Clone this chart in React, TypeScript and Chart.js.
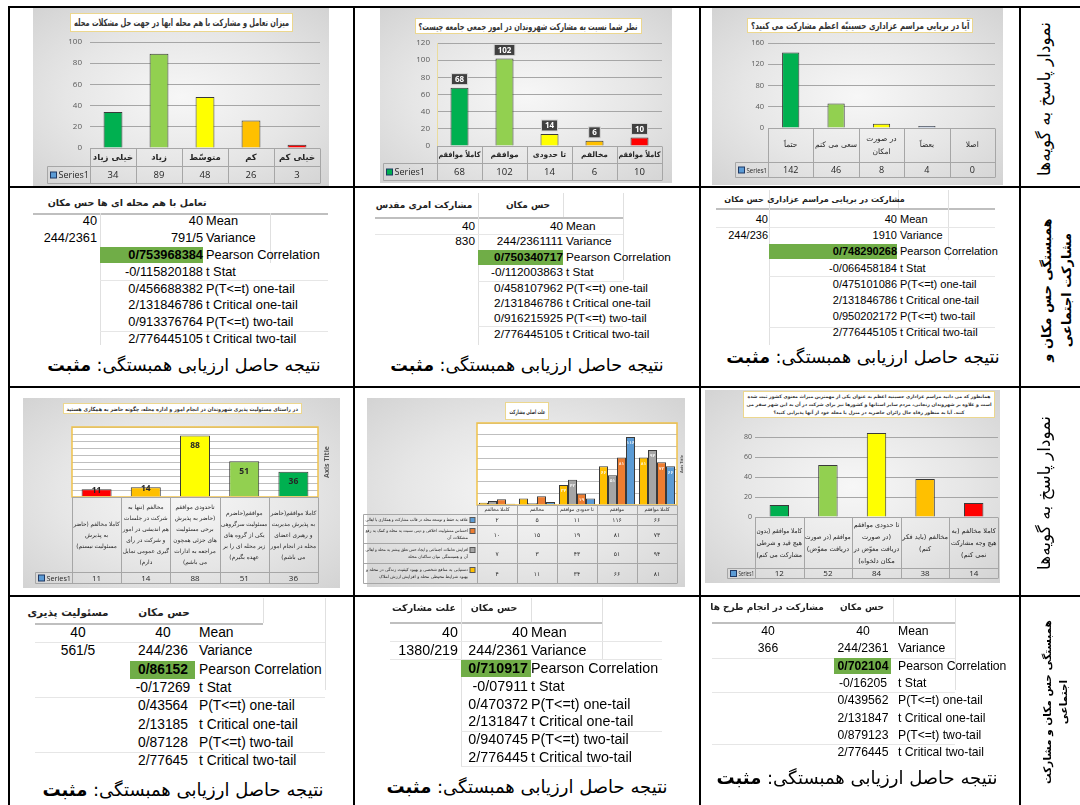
import React, { useEffect, useLayoutEffect, useRef } from "react";
import { Chart, registerables } from "chart.js";

Chart.register(...registerables);

const FA = '"DejaVu Sans", "Noto Sans", sans-serif';
const NUM = '"Open Sans", "DejaVu Sans", sans-serif';
const ARIAL = '"Liberation Sans", Arial, sans-serif';

// ===================== DATA =====================
const seriesName = "Series1";

// Chart 1
const c1Title = "میزان تعامل و مشارکت با هم محله ایها در جهت حل مشکلات محله";
const c1Categories = [["خیلی زیاد"], ["زیاد"], ["متوسّط"], ["کم"], ["خیلی کم"]];
const c1Values = [34, 89, 48, 26, 3];
const c1Axis = { max: 100, step: 10 };

// Chart 2
const c2Title = "نظر شما نسبت به مشارکت شهروندان در امور جمعی جامعه چیست؟";
const c2Categories = [["کاملاً موافقم"], ["موافقم"], ["تا حدودی"], ["مخالفم"], ["کاملاً موافقم"]];
const c2Values = [68, 102, 14, 6, 10];
const c2Axis = { max: 120, step: 20 };

// Chart 3
const c3Title = "آیا در برپایی مراسم عزاداری حسینیّه اعظم مشارکت می کنید؟";
const c3Categories = [["حتماً"], ["سعی می کنم"], ["در صورت", "امکان"], ["بعضاً"], ["اصلا"]];
const c3Values = [142, 46, 8, 4, 0];
const c3Axis = { max: 160, step: 20 };

// Chart 4
const c4Title = "در راستای مسئولیت پذیری شهروندان در انجام امور و اداره محله، چگونه حاضر به همکاری هستید";
const c4Categories = [
  ["کاملا مخالفم (حاضر", "به پذیرش", "مسئولیت نیستم)"],
  ["مخالفم (تنها به", "شرکت در جلسات", "هم اندیشی در امور", "و شرکت در رأی", "گیری عمومی تمایل", "دارم)"],
  ["تاحدودی موافقم", "(حاضر به پذیرش", "برخی مسئولیت", "های جزئی همچون", "مراجعه به ادارات", "می باشم)"],
  ["موافقم(حاضرم", "مسئولیت سرگروهی", "یکی از گروه های", "زیر محله ای را بر", "عهده بگیرم)"],
  ["کاملا موافقم(حاضر", "به پذیرش مدیریت", "و رهبری اعضای", "محله در انجام امور", "می باشم)"],
];
const c4Values = [11, 14, 88, 51, 36];
const c4Axis = { max: 100, step: 10 };
const axisTitleText = "Axis Title";

// Chart 5
const c5Title = "علت اصلی مشارکت";
const c5Categories = [["کاملا مخالفم"], ["مخالفم"], ["تا حدودی موافقم"], ["موافقم"], ["کاملا موافقم"]];
const c5NameYellow = ["دستیابی به منافع شخصی و بهبود کیفیت زندگی در محله و", "بهبود شرایط محیطی محله و افزایش ارزش املاک"];
const c5NameGray = ["افزایش تعاملات اجتماعی و ایجاد حس تعلق بیشتر به محله و اهالی", "آن و همبستگی میان ساکنان محله"];
const c5NameOrange = ["احساس مسئولیت اخلاقی و دینی نسبت به محله و کمک به رفع", "مشکلات آن"];
const c5NameBlue = ["علاقه به حفظ و توسعه محله در قالب مشارکت و همکاری با اهالی"];
const c5Yellow = [4, 11, 34, 66, 81];
const c5Gray = [7, 3, 43, 51, 94];
const c5Orange = [10, 15, 19, 81, 73];
const c5Blue = [2, 5, 11, 116, 66];
const c5Axis = { max: 140, step: 20 };

// Chart 6
const c6Title =
  "همانطور که می دانید مراسم عزاداری حسینیه اعظم به عنوان یکی از مهمترین میراث معنوی کشور ثبت شده است و علاوه بر شهروندان زنجانی، مردم سایر استانها و کشورها نیز برای شرکت در آن به این شهر سفر می کنند. آیا به منظور رفاه حال زائران حاضرید در منزل یا محله خود از آنها پذیرایی کنید؟";
const c6Categories = [
  ["کاملا موافقم (بدون", "هیچ قید و شرطی", "مشارکت می کنم)"],
  ["موافقم (در صورت", "دریافت معوّض)"],
  ["تا حدودی موافقم", "(در صورت", "دریافت معوّض در", "مکان دلخواه)"],
  ["مخالفم (باید فکر", "کنم)"],
  ["کاملا مخالفم (به", "هیچ وجه مشارکت", "نمی کنم)"],
];
const c6Values = [12, 52, 84, 38, 14];
const c6Axis = { max: 90, step: 10 };

// Statistic tables
const statLabels = [
  "Mean",
  "Variance",
  "Pearson Correlation",
  "t Stat",
  "P(T<=t) one-tail",
  "t Critical one-tail",
  "P(T<=t) two-tail",
  "t Critical two-tail",
];
const conclusionText = "نتیجه حاصل ارزیابی همبستگی: ";
const conclusionResult = "مثبت";

const s1Headers = ["حس مکان", "تعامل با هم محله ای ها"];
const s1Left = ["40", "244/2361"];
const s1Mid = ["40", "791/5", "0/753968384", "-0/115820188", "0/456688382", "2/131846786", "0/913376764", "2/776445105"];

const s2Headers = ["مشارکت امری مقدس", "حس مکان"];
const s2Left = ["40", "830"];
const s2Mid = ["40", "244/2361111", "0/750340717", "-0/112003863", "0/458107962", "2/131846786", "0/916215925", "2/776445105"];

const s3Headers = ["حس مکان", "مشارکت در برپایی مراسم عزاداری"];
const s3Left = ["40", "244/236"];
const s3Mid = ["40", "1910", "0/748290268", "-0/066458184", "0/475101086", "2/131846786", "0/950202172", "2/776445105"];

const s4Headers = ["مسئولیت پذیری", "حس مکان"];
const s4Left = ["40", "561/5"];
const s4Mid = ["40", "244/236", "0/86152", "-0/17269", "0/43564", "2/13185", "0/87128", "2/77645"];

const s5Headers = ["علت مشارکت", "حس مکان"];
const s5Left = ["40", "1380/219"];
const s5Mid = ["40", "244/2361", "0/710917", "-0/07911", "0/470372", "2/131847", "0/940745", "2/776445"];

const s6Headers = ["مشارکت در انجام طرح ها", "حس مکان"];
const s6Left = ["40", "366"];
const s6Mid = ["40", "244/2361", "0/702104", "-0/16205", "0/439562", "2/131847", "0/879123", "2/776445"];

const sideLabel1 = "نمودار پاسخ به گویه‌ها";
const sideLabel2 = ["همبستگی حس مکان و", "مشارکت اجتماعی"];
const sideLabel4 = ["همبستگی حس مکان و مشارکت", "اجتماعی"];

// ===================== STYLES =====================
const GREEN_D = "#00b050";
const GREEN_L = "#92d050";
const YELLOW = "#ffff00";
const ORANGE = "#ffc000";
const RED = "#ff0000";
const BLUEGRAY = "#8faadc";
const BG = "radial-gradient(ellipse at center, #f7f7f7 0%, #e6e6e6 55%, #d3d3d3 100%)";

const faDigits = (v: number) => String(v).replace(/\d/g, (d) => "۰۱۲۳۴۵۶۷۸۹"[+d]);

function seg(ctx: any, x1: number, y1: number, x2: number, y2: number) {
  ctx.beginPath();
  ctx.moveTo(x1, y1);
  ctx.lineTo(x2, y2);
  ctx.stroke();
}

function tablePlugin(t: any) {
  return {
    id: "dtable",
    afterDraw(chart: any) {
      const ctx = chart.ctx;
      const a = chart.chartArea;
      const xs = chart.scales.x;
      const n = chart.data.labels.length;
      const cw = (a.right - a.left) / n;
      const top = Math.round(a.bottom) + 0.5;
      const catB = top + t.catH;
      const rowTops: number[] = [];
      let y = catB;
      t.rowH.forEach((h: number) => {
        rowTops.push(y);
        y += h;
      });
      const bottom = y;
      const L = Math.round(t.legendLeft) + 0.5;
      ctx.save();
      ctx.strokeStyle = t.line || "#a6a6a6";
      ctx.lineWidth = 1;
      seg(ctx, a.left, top, a.right, top);
      rowTops.forEach((ry) => seg(ctx, L, ry, a.right, ry));
      seg(ctx, L, bottom, a.right, bottom);
      for (let i = 0; i <= n; i++) {
        const x = Math.round(a.left + i * cw) + 0.5;
        seg(ctx, x, top, x, bottom);
      }
      seg(ctx, L, catB, L, bottom);

      ctx.fillStyle = t.color || "#262626";
      ctx.textAlign = "center";
      ctx.textBaseline = "middle";
      ctx.font = t.catFont;
      ctx.direction = "rtl";
      const mid = (top + catB) / 2;
      t.categories.forEach((lines: string[], i: number) => {
        const cx = xs.getPixelForValue(i);
        lines.forEach((s, k) =>
          ctx.fillText(s, cx, mid + (k - (lines.length - 1) / 2) * t.catLine, cw - 3)
        );
      });

      t.rows.forEach((r: any, ri: number) => {
        const y0 = rowTops[ri];
        const y1 = y0 + t.rowH[ri];
        const cy = (y0 + y1) / 2;
        ctx.direction = "ltr";
        ctx.textAlign = "center";
        ctx.font = t.valFont;
        ctx.fillStyle = t.color || "#262626";
        r.values.forEach((v: number, i: number) =>
          ctx.fillText(t.fmt ? t.fmt(v) : String(v), xs.getPixelForValue(i), cy + 0.5)
        );
        if (t.legendRtl) {
          const lines: string[] = r.lines;
          const lh = t.legLine;
          const fy = cy - ((lines.length - 1) * lh) / 2;
          ctx.fillStyle = r.color;
          ctx.fillRect(a.left - 7, fy - 2.5, 5, 5);
          ctx.strokeStyle = "#595959";
          ctx.strokeRect(a.left - 7, fy - 2.5, 5, 5);
          ctx.fillStyle = "#262626";
          ctx.font = t.legFont;
          ctx.direction = "rtl";
          ctx.textAlign = "right";
          lines.forEach((s, k) => ctx.fillText(s, a.left - 9, fy + k * lh, a.left - 11 - L));
        } else {
          ctx.fillStyle = r.color;
          ctx.fillRect(L + 3, cy - 3, 6, 6);
          ctx.strokeStyle = "#1f3864";
          ctx.strokeRect(L + 3, cy - 3, 6, 6);
          ctx.fillStyle = "#262626";
          ctx.font = t.legFontLtr || t.valFont;
          ctx.textAlign = "left";
          ctx.fillText(r.label, L + 11, cy + 0.5, a.left - L - 12);
        }
      });
      ctx.restore();
    },
  };
}

function labelPlugin(o: any) {
  return {
    id: "barLabels",
    afterDatasetsDraw(chart: any) {
      if (!o) return;
      const ctx = chart.ctx;
      ctx.save();
      ctx.textAlign = "center";
      ctx.textBaseline = "middle";
      chart.data.datasets.forEach((ds: any, di: number) => {
        const meta = chart.getDatasetMeta(di);
        meta.data.forEach((el: any, i: number) => {
          const v = ds.data[i];
          const x = el.x;
          const y = el.y;
          const base = el.base;
          const txt = o.fmt ? o.fmt(v) : String(v);
          ctx.font = o.font;
          if (o.style === "box") {
            const w = ctx.measureText(txt).width + 7;
            const h = 11;
            const by = y - 3 - h;
            ctx.fillStyle = "#404040";
            ctx.fillRect(x - w / 2, by, w, h);
            ctx.strokeStyle = "#d9d9d9";
            ctx.lineWidth = 1;
            ctx.strokeRect(x - w / 2, by, w, h);
            ctx.fillStyle = "#ffffff";
            ctx.fillText(txt, x, by + h / 2 + 0.5);
          } else if (o.style === "inside") {
            const hgt = base - y;
            const cy = hgt > 20 ? y + 10 : y + 1;
            ctx.fillStyle = "#262626";
            ctx.fillText(txt, x, cy);
          } else if (o.style === "tiny") {
            if (base - y > 9) {
              ctx.fillStyle = "rgba(255,255,255,0.85)";
              ctx.fillText(txt, x, y + 6);
            }
          }
        });
      });
      ctx.restore();
    },
  };
}

function plotBgPlugin(o: any) {
  return {
    id: "plotBg",
    beforeDraw(chart: any) {
      if (!o) return;
      const a = chart.chartArea;
      const ctx = chart.ctx;
      ctx.save();
      ctx.fillStyle = o.fill;
      ctx.fillRect(a.left, a.top, a.right - a.left, a.bottom - a.top);
      ctx.restore();
    },
    afterDraw(chart: any) {
      if (!o) return;
      const a = chart.chartArea;
      const ctx = chart.ctx;
      ctx.save();
      ctx.strokeStyle = o.border;
      ctx.lineWidth = 1.5;
      ctx.strokeRect(a.left, a.top, a.right - a.left, a.bottom - a.top);
      ctx.restore();
    },
  };
}

function buildConfig(spec: any) {
  const b = spec.box;
  const p = spec.plot;
  return {
    type: "bar",
    data: {
      labels: spec.categories.map((c: string[]) => c.join(" ")),
      datasets: spec.datasets.map((d: any) => ({
        label: d.label,
        data: d.data,
        backgroundColor: d.colors,
        borderColor: "#3a3a3a",
        borderWidth: 1,
        barPercentage: spec.barPct,
        categoryPercentage: spec.catPct || 1,
      })),
    },
    options: {
      responsive: false,
      maintainAspectRatio: false,
      animation: false,
      layout: {
        padding: {
          left: 0,
          top: p.t - b.t,
          right: b.l + b.w - p.r,
          bottom: b.t + b.h - p.b,
        },
      },
      plugins: {
        legend: { display: false },
        tooltip: { enabled: false },
        title: { display: false },
      },
      scales: {
        x: { display: false, offset: true, grid: { display: false } },
        y: {
          min: 0,
          max: spec.axis.max,
          afterFit: (s: any) => {
            s.width = p.l - b.l;
          },
          border: { display: !!spec.yBorder, color: spec.yBorder || "#000", width: 1 },
          grid: { color: spec.gridColor || "#a6a6a6", drawTicks: false, lineWidth: 1 },
          ticks: {
            display: !!spec.showTicks,
            stepSize: spec.axis.step,
            padding: spec.tickPad || 4,
            color: "#595959",
            font: { family: NUM, size: spec.tickSize || 8 },
          },
        },
      },
    },
    plugins: [plotBgPlugin(spec.plotBg), labelPlugin(spec.barLabels), tablePlugin(spec.table)],
  };
}

function FitText({ children, pad }: any) {
  const ref = useRef<HTMLSpanElement>(null);
  useLayoutEffect(() => {
    const el = ref.current as HTMLSpanElement;
    const parent = el.parentElement as HTMLElement;
    const avail = parent.clientWidth - (pad || 6);
    const w = el.scrollWidth;
    if (w > avail) el.style.transform = `scaleX(${avail / w})`;
  }, []);
  return (
    <span ref={ref} style={{ display: "inline-block", whiteSpace: "nowrap", transformOrigin: "center", flex: "none" }}>
      {children}
    </span>
  );
}

function ChartBox({ spec }: { spec: any }) {
  const ref = useRef<HTMLCanvasElement>(null);
  useEffect(() => {
    const chart = new Chart(ref.current as HTMLCanvasElement, buildConfig(spec) as any);
    return () => chart.destroy();
  }, []);
  const b = spec.box;
  const bg = spec.bg || b;
  const tb = spec.titleBox;
  return (
    <>
      <div style={{ position: "absolute", left: bg.l, top: bg.t, width: bg.w, height: bg.h, background: BG }} />
      <canvas
        ref={ref}
        width={b.w}
        height={b.h}
        style={{ position: "absolute", left: b.l, top: b.t, width: b.w, height: b.h }}
      />
      <div
        dir="rtl"
        style={{
          position: "absolute",
          left: tb.l,
          top: tb.t,
          width: tb.w,
          height: tb.h,
          boxSizing: "border-box",
          border: tb.border || "1.5px solid #ecd78e",
          background: "#ffffff",
          display: "flex",
          alignItems: "center",
          justifyContent: "center",
          textAlign: "center",
          fontFamily: FA,
          fontWeight: "bold",
          fontSize: tb.size,
          lineHeight: tb.lh ? tb.lh + "px" : "normal",
          color: "#333333",
          whiteSpace: tb.wrap ? "normal" : "nowrap",
          overflow: "hidden",
          padding: "0 2px",
        }}
      >
        {tb.wrap ? spec.title : <FitText>{spec.title}</FitText>}
      </div>
      {spec.axisTitle ? (
        <div
          style={{
            position: "absolute",
            left: spec.axisTitle.x,
            top: spec.axisTitle.y,
            transform: "translate(-50%,-50%) rotate(-90deg)",
            whiteSpace: "nowrap",
            fontFamily: NUM,
            fontWeight: "bold",
            fontSize: spec.axisTitle.size,
            color: "#595959",
          }}
        >
          {axisTitleText}
        </div>
      ) : null}
    </>
  );
}

// ===================== CHART SPECS =====================
const spec1 = {
  box: { l: 33, t: 8, w: 296, h: 178 },
  plot: { l: 90, t: 42, r: 320, b: 148 },
  title: c1Title,
  titleBox: { l: 70, t: 13, w: 223, h: 19, size: 10 },
  categories: c1Categories,
  datasets: [{ label: seriesName, data: c1Values, colors: [GREEN_D, GREEN_L, YELLOW, ORANGE, RED] }],
  axis: c1Axis,
  showTicks: true,
  tickPad: 8,
  tickSize: 8,
  barPct: 0.41,
  table: {
    catH: 18,
    rowH: [17],
    legendLeft: 47 - 33,
    catFont: `bold 8.5px ${FA}`,
    catLine: 10,
    valFont: `9.5px ${NUM}`,
    legFontLtr: `9px ${NUM}`,
    categories: c1Categories,
    rows: [{ label: seriesName, values: c1Values, color: "#5b9bd5" }],
  },
};

const spec2 = {
  box: { l: 380, t: 8, w: 292, h: 175 },
  plot: { l: 437, t: 43, r: 662, b: 146 },
  title: c2Title,
  titleBox: { l: 415, t: 18, w: 227, h: 16, size: 9.5 },
  categories: c2Categories,
  datasets: [{ label: seriesName, data: c2Values, colors: [GREEN_D, GREEN_L, YELLOW, ORANGE, RED] }],
  axis: c2Axis,
  showTicks: true,
  tickPad: 7,
  tickSize: 8,
  barPct: 0.4,
  yBorder: "#eadc9c",
  barLabels: { style: "box", font: `bold 8px ${NUM}` },
  table: {
    catH: 17,
    rowH: [17],
    legendLeft: 383 - 380,
    catFont: `bold 7.5px ${FA}`,
    catLine: 10,
    valFont: `9.5px ${NUM}`,
    legFontLtr: `9px ${NUM}`,
    categories: c2Categories,
    rows: [{ label: seriesName, values: c2Values, color: GREEN_D }],
  },
};

const spec3 = {
  box: { l: 712, t: 8, w: 291, h: 177 },
  plot: { l: 768, t: 43, r: 995, b: 128 },
  title: c3Title,
  titleBox: { l: 747, t: 18, w: 226, h: 15, size: 9.5 },
  categories: c3Categories,
  datasets: [{ label: seriesName, data: c3Values, colors: [GREEN_D, GREEN_L, YELLOW, BLUEGRAY, ORANGE] }],
  axis: c3Axis,
  showTicks: true,
  tickPad: 4,
  tickSize: 7.5,
  barPct: 0.38,
  table: {
    catH: 34,
    rowH: [15],
    legendLeft: 735 - 712,
    catFont: `7.5px ${FA}`,
    catLine: 13,
    valFont: `9px ${NUM}`,
    legFontLtr: `8px ${NUM}`,
    categories: c3Categories,
    rows: [{ label: seriesName, values: c3Values, color: "#5b9bd5" }],
  },
};

const spec4 = {
  box: { l: 23, t: 398, w: 317, h: 190 },
  plot: { l: 72, t: 427, r: 318, b: 497 },
  title: c4Title,
  titleBox: { l: 63, t: 403, w: 239, h: 11, size: 5.5 },
  categories: c4Categories,
  datasets: [{ label: seriesName, data: c4Values, colors: [RED, ORANGE, YELLOW, GREEN_L, GREEN_D] }],
  axis: c4Axis,
  showTicks: false,
  barPct: 0.61,
  gridColor: "#bfbfbf",
  plotBg: { fill: "#ffffff", border: "#f0c24b" },
  barLabels: { style: "inside", font: `bold 8.5px ${NUM}` },
  axisTitle: { x: 326, y: 462, size: 7 },
  table: {
    catH: 75,
    rowH: [11],
    legendLeft: 35 - 23,
    catFont: `5.8px ${FA}`,
    catLine: 11,
    valFont: `8px ${NUM}`,
    legFontLtr: `7.5px ${NUM}`,
    categories: c4Categories,
    rows: [{ label: seriesName, values: c4Values, color: "#5b9bd5" }],
  },
};

const spec5 = {
  box: { l: 362, t: 398, w: 323, h: 189 },
  bg: { l: 367, t: 398, w: 318, h: 189 },
  plot: { l: 477, t: 423, r: 677, b: 505 },
  title: c5Title,
  titleBox: { l: 505, t: 402, w: 44, h: 18, size: 6, border: "1px solid #ecd78e" },
  categories: c5Categories,
  datasets: [
    { label: c5NameYellow.join(" "), data: c5Yellow, colors: "#ffc000" },
    { label: c5NameGray.join(" "), data: c5Gray, colors: "#a5a5a5" },
    { label: c5NameOrange.join(" "), data: c5Orange, colors: "#ed7d31" },
    { label: c5NameBlue.join(" "), data: c5Blue, colors: "#5b9bd5" },
  ],
  axis: c5Axis,
  showTicks: false,
  barPct: 1,
  catPct: 0.9,
  gridColor: "#bfbfbf",
  plotBg: { fill: "#ffffff", border: "#f0c24b" },
  barLabels: { style: "tiny", font: `bold 4.5px ${NUM}`, fmt: faDigits },
  axisTitle: { x: 681, y: 464, size: 4 },
  table: {
    catH: 9,
    rowH: [11, 18, 20, 20],
    legendLeft: 363 - 362,
    catFont: `4.8px ${FA}`,
    catLine: 6,
    valFont: `6px ${FA}`,
    fmt: faDigits,
    legendRtl: true,
    legFont: `4.3px ${FA}`,
    legLine: 7,
    categories: c5Categories,
    rows: [
      { lines: c5NameBlue, values: c5Blue, color: "#5b9bd5" },
      { lines: c5NameOrange, values: c5Orange, color: "#ed7d31" },
      { lines: c5NameGray, values: c5Gray, color: "#a5a5a5" },
      { lines: c5NameYellow, values: c5Yellow, color: "#ffc000" },
    ],
  },
};

const spec6 = {
  box: { l: 705, t: 390, w: 295, h: 193 },
  plot: { l: 755, t: 427, r: 998, b: 517 },
  title: c6Title,
  titleBox: { l: 743, t: 391, w: 252, h: 27, size: 4.6, lh: 8, wrap: true },
  categories: c6Categories,
  datasets: [{ label: seriesName, data: c6Values, colors: [GREEN_D, GREEN_L, YELLOW, ORANGE, RED] }],
  axis: c6Axis,
  showTicks: true,
  tickPad: 3,
  tickSize: 7,
  barPct: 0.4,
  table: {
    catH: 51,
    rowH: [10],
    legendLeft: 727 - 705,
    catFont: `6.6px ${FA}`,
    catLine: 12,
    valFont: `8px ${NUM}`,
    legFontLtr: `7px ${NUM}`,
    categories: c6Categories,
    rows: [{ label: seriesName, values: c6Values, color: "#5b9bd5" }],
  },
};

// ===================== STAT BLOCKS =====================
const g1 = {
  hdrY: 203, hdrL: 71, hdrM: 152, hdrFont: 9.5,
  underline: [33, 328, 213], vlines: [[100, 213, 345], [270, 213, 263]], hlines: [[100, 328, 279.5], [100, 328, 330.5]],
  y0: 221.7, step: 16.8, font: 12.8,
  leftX: 97, leftAlign: "right", midX: 203, midAlign: "right", labelX: 206, green: [100, 203],
  concX: 184, concY: 365, concFont: 17.5,
};
const g2 = {
  hdrY: 205, hdrL: 424, hdrM: 528, hdrFont: 9,
  underline: [375, 623, 217], vlines: [[478, 193, 345], [563, 193, 217], [623, 193, 280]], hlines: [[375, 623, 234], [478, 623, 280.5], [478, 623, 326]],
  y0: 226.7, step: 15.4, font: 11.8,
  leftX: 475, leftAlign: "right", midX: 563, midAlign: "right", labelX: 566, green: [478, 563],
  concX: 527, concY: 365, concFont: 17.5,
};
const g3 = {
  hdrY: 200, hdrL: 744, hdrM: 836, hdrFont: 8,
  underline: [716, 995, 208], vlines: [[769, 190, 345], [898, 190, 208], [948, 190, 260]], hlines: [[716, 995, 227], [769, 995, 276], [769, 995, 327]],
  y0: 219.3, step: 16.1, font: 11,
  leftX: 768, leftAlign: "right", midX: 897, midAlign: "right", labelX: 900, green: [769, 897],
  concX: 863, concY: 357, concFont: 17.5,
};
const g4 = {
  hdrY: 611.7, hdrL: 68, hdrM: 164, hdrFont: 10.5,
  underline: [35, 263, 623], vlines: [[263, 598, 623], [325, 598, 690]], hlines: [[35, 325, 642], [35, 325, 697], [35, 325, 752]],
  y0: 633.3, step: 18.33, font: 13.8,
  leftX: 78, leftAlign: "center", midX: 163, midAlign: "center", labelX: 199, green: [130, 195],
  concX: 183, concY: 790, concFont: 18,
};
const g5 = {
  hdrY: 608.3, hdrL: 424, hdrM: 494, hdrFont: 9.5,
  underline: [390, 602, 622], vlines: [[461, 598, 766], [531, 598, 622], [602, 598, 660]], hlines: [[390, 662, 641], [390, 662, 659], [461, 662, 731], [461, 602, 766]],
  y0: 632.7, step: 17.95, font: 14.3,
  leftX: 458, leftAlign: "right", midX: 528, midAlign: "right", labelX: 531, green: [461, 531],
  concX: 527, concY: 787, concFont: 18,
};
const g6 = {
  hdrY: 606.7, hdrL: 767, hdrM: 862, hdrFont: 9,
  underline: [712, 955, 622], vlines: [[893, 598, 622], [955, 598, 690]], hlines: [[712, 955, 658], [712, 955, 692], [712, 955, 744]],
  y0: 631.7, step: 17.3, font: 12.2,
  leftX: 768, leftAlign: "center", midX: 863, midAlign: "center", labelX: 898, green: [834, 891],
  concX: 857, concY: 778, concFont: 18,
};

function StatBlock({ g, headers, left, mid }: any) {
  const els: any[] = [];
  const lh = g.step;
  const box = (key: string, x: number, y: number, w: number, h: number, c: string) =>
    els.push(<div key={key} style={{ position: "absolute", left: x, top: y, width: w, height: h, background: c }} />);
  box("ul", g.underline[0], g.underline[2], g.underline[1] - g.underline[0], 1.5, "#bfbfbf");
  g.vlines.forEach((v: number[], i: number) => box("v" + i, v[0], v[1], 1, v[2] - v[1], "#e0e0e0"));
  g.hlines.forEach((h: number[], i: number) => box("h" + i, h[0], h[2], h[1] - h[0], 1, "#e6e6e6"));
  const hdr = (key: string, text: string, cx: number) =>
    els.push(
      <div
        key={key}
        dir="rtl"
        style={{
          position: "absolute", left: cx - 100, width: 200, top: g.hdrY - 8, height: 16, lineHeight: "16px",
          textAlign: "center", fontFamily: FA, fontWeight: "bold", fontSize: g.hdrFont, color: "#222", whiteSpace: "nowrap",
        }}
      >
        {text}
      </div>
    );
  hdr("hl", headers[0], g.hdrL);
  hdr("hm", headers[1], g.hdrM);
  const cell = (key: string, text: string, x: number, align: string, top: number, bold: boolean) => {
    const pos = align === "right" ? { left: x - 200, width: 200, textAlign: "right" } : { left: x - 100, width: 200, textAlign: "center" };
    els.push(
      <div
        key={key}
        style={{
          position: "absolute", top, height: lh, lineHeight: lh + "px", fontFamily: ARIAL, fontSize: g.font,
          fontWeight: bold ? "bold" : "normal", color: "#000", whiteSpace: "nowrap", ...(pos as any),
        }}
      >
        {text}
      </div>
    );
  };
  statLabels.forEach((lab, i) => {
    const cy = g.y0 + i * g.step;
    const top = cy - lh / 2;
    if (i === 2) box("g", g.green[0], top + 0.5, g.green[1] - g.green[0], lh - 1, "#70ad47");
    if (left[i]) cell("l" + i, left[i], g.leftX, g.leftAlign, top, false);
    cell("m" + i, mid[i], g.midX, g.midAlign, top, i === 2);
    els.push(
      <div
        key={"t" + i}
        style={{
          position: "absolute", left: g.labelX, top, height: lh, lineHeight: lh + "px", fontFamily: ARIAL,
          fontSize: g.font, color: "#000", whiteSpace: "nowrap",
        }}
      >
        {lab}
      </div>
    );
  });
  els.push(
    <div
      key="conc"
      dir="rtl"
      style={{
        position: "absolute", left: g.concX - 180, width: 360, top: g.concY - 14, height: 28, lineHeight: "28px",
        textAlign: "center", fontFamily: FA, fontSize: g.concFont, color: "#000", whiteSpace: "nowrap",
      }}
    >
      <span>{conclusionText}</span>
      <b>{conclusionResult}</b>
    </div>
  );
  return <>{els}</>;
}

function SideLabel({ x, y, lines, size, bold }: any) {
  return (
    <div
      dir="rtl"
      style={{
        position: "absolute", left: x, top: y, transform: "translate(-50%,-50%) rotate(-90deg)", whiteSpace: "nowrap",
        fontFamily: FA, fontSize: size, fontWeight: bold ? "bold" : "normal", textAlign: "center", lineHeight: 1.5, color: "#000",
      }}
    >
      {lines.map((l: string, i: number) => (
        <div key={i}>{l}</div>
      ))}
    </div>
  );
}

export default function App() {
  const L = (key: string, x: number, y: number, w: number, h: number) => (
    <div key={key} style={{ position: "absolute", left: x, top: y, width: w, height: h, background: "#000" }} />
  );
  return (
    <div style={{ position: "absolute", left: 0, top: 0, width: 1080, height: 805, background: "#fff", overflow: "hidden" }}>
      <ChartBox spec={spec1} />
      <ChartBox spec={spec2} />
      <ChartBox spec={spec3} />
      <ChartBox spec={spec4} />
      <ChartBox spec={spec5} />
      <ChartBox spec={spec6} />
      <StatBlock g={g1} headers={s1Headers} left={s1Left} mid={s1Mid} />
      <StatBlock g={g2} headers={s2Headers} left={s2Left} mid={s2Mid} />
      <StatBlock g={g3} headers={s3Headers} left={s3Left} mid={s3Mid} />
      <StatBlock g={g4} headers={s4Headers} left={s4Left} mid={s4Mid} />
      <StatBlock g={g5} headers={s5Headers} left={s5Left} mid={s5Mid} />
      <StatBlock g={g6} headers={s6Headers} left={s6Left} mid={s6Mid} />
      <SideLabel x={1045} y={99} lines={[sideLabel1]} size={17} />
      <SideLabel x={1056} y={290} lines={sideLabel2} size={13} bold />
      <SideLabel x={1045} y={493} lines={[sideLabel1]} size={17} />
      <SideLabel x={1056} y={702} lines={sideLabel4} size={10.5} bold />
      {L("t", 8, 6, 1072, 2)}
      {L("r1", 8, 186, 1072, 2)}
      {L("r2", 8, 386, 1072, 2)}
      {L("r3", 8, 595, 1072, 2)}
      {L("v0", 8, 6, 2, 799)}
      {L("v1", 353, 6, 2, 799)}
      {L("v2", 699, 6, 2, 799)}
      {L("v3", 1019, 6, 2, 799)}
    </div>
  );
}
